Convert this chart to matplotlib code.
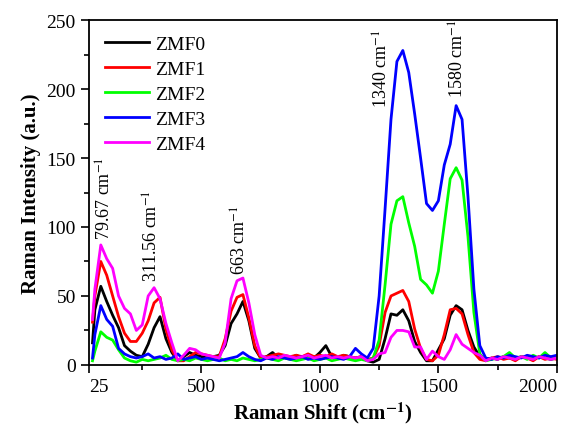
import matplotlib
matplotlib.use("Agg")
import matplotlib.pyplot as plt
from matplotlib.ticker import MultipleLocator

plt.rcParams['font.family'] = ['Liberation Serif', 'DejaVu Serif']
plt.rcParams['mathtext.fontset'] = 'stix'

# Raman shift grid (cm-1), shared by all samples
shift = [40, 50, 75, 100, 125, 150, 175, 200, 225, 250,
         275, 300, 325, 350, 375, 400, 425, 450, 475, 500,
         525, 550, 575, 600, 625, 650, 675, 700, 725, 750,
         775, 800, 825, 850, 875, 900, 925, 950, 975, 1000,
         1025, 1050, 1075, 1100, 1125, 1150, 1175, 1200, 1225, 1250,
         1275, 1300, 1325, 1350, 1375, 1400, 1425, 1450, 1475, 1500,
         1525, 1550, 1575, 1600, 1625, 1650, 1675, 1700, 1725, 1750,
         1775, 1800, 1825, 1850, 1875, 1900, 1925, 1950, 1975, 2000]

zmf0 = [16, 40, 57, 46, 36, 27, 14, 10, 7, 6,
        15, 27, 35, 19, 9, 3, 6, 9, 7, 6,
        5, 6, 7, 14, 30, 37, 46, 32, 12, 5,
        6, 9, 5, 6, 5, 7, 5, 6, 5, 9,
        14, 6, 5, 7, 6, 5, 6, 3, 2, 4,
        19, 37, 36, 40, 32, 17, 9, 3, 3, 11,
        19, 36, 43, 40, 25, 13, 6, 4, 5, 4,
        6, 5, 4, 6, 5, 4, 6, 5, 4, 5]

zmf1 = [31, 50, 75, 65, 50, 35, 23, 17, 17, 23,
        32, 45, 49, 26, 11, 3, 3, 6, 9, 8,
        7, 6, 6, 19, 39, 49, 51, 34, 14, 5,
        6, 7, 8, 7, 6, 7, 6, 8, 6, 7,
        6, 8, 6, 7, 6, 5, 6, 4, 5, 14,
        38, 50, 52, 54, 46, 26, 12, 4, 3, 7,
        22, 40, 41, 37, 22, 9, 4, 3, 5, 6,
        4, 5, 3, 6, 5, 3, 6, 4, 5, 4]

zmf2 = [3, 10, 24, 20, 18, 11, 5, 3, 2, 4,
        3, 4, 5, 7, 4, 3, 4, 3, 5, 4,
        3, 4, 5, 3, 4, 3, 5, 4, 3, 4,
        5, 4, 3, 5, 4, 3, 4, 5, 3, 4,
        5, 3, 4, 5, 4, 3, 4, 3, 5, 18,
        58, 102, 119, 122, 103, 86, 62, 58, 52, 68,
        102, 135, 143, 134, 93, 38, 8, 3, 4, 5,
        6, 9, 5, 6, 4, 7, 5, 9, 5, 6]

zmf3 = [5, 22, 43, 33, 28, 12, 8, 6, 5, 6,
        8, 5, 6, 4, 5, 8, 4, 5, 6, 4,
        5, 4, 3, 4, 5, 6, 9, 6, 4, 3,
        5, 4, 6, 5, 4, 5, 6, 4, 5, 4,
        5, 6, 5, 4, 6, 12, 8, 5, 12, 50,
        113, 178, 220, 228, 212, 182, 150, 117, 112, 119,
        145, 160, 188, 178, 122, 55, 14, 5, 4, 6,
        5, 7, 6, 5, 7, 6, 5, 7, 6, 7]

zmf4 = [33, 55, 87, 77, 70, 50, 41, 37, 25, 29,
        50, 56, 48, 30, 16, 3, 7, 12, 11, 8,
        7, 6, 5, 16, 48, 61, 63, 45, 22, 7,
        5, 6, 5, 7, 6, 5, 6, 7, 5, 6,
        7, 5, 6, 5, 6, 5, 6, 3, 4, 8,
        9, 20, 25, 25, 24, 13, 13, 4, 10, 6,
        4, 11, 22, 15, 12, 9, 7, 3, 5, 4,
        6, 5, 4, 6, 5, 4, 6, 5, 4, 5]

labels = ['ZMF0', 'ZMF1', 'ZMF2', 'ZMF3', 'ZMF4']
colors = ['black', '#ff0000', '#00ff00', '#0000ff', '#ff00ff']

# peak labels: text, x, y (bottom of rotated text)
peak_text = ['79.67 cm$^{-1}$', '311.56 cm$^{-1}$', '663 cm$^{-1}$',
             '1340 cm$^{-1}$', '1580 cm$^{-1}$']
peak_x = [92, 292, 663, 1262, 1585]
peak_y = [91, 61, 66, 187, 194]

fig = plt.figure(figsize=(5.63, 4.31), dpi=100)
ax = fig.add_axes([0.158, 0.151, 0.831, 0.800])

for ys, lab, c in zip([zmf0, zmf1, zmf2, zmf3, zmf4], labels, colors):
    ax.plot(shift, ys, color=c, lw=2.0, label=lab)

for t, px, py in zip(peak_text, peak_x, peak_y):
    ax.text(px, py, t, rotation=90, ha='center', va='bottom', fontsize=13)

ax.set_xlim(25, 2000)
ax.set_ylim(0, 250)
ax.set_xticks([25, 500, 1000, 1500, 2000])
ax.xaxis.set_minor_locator(MultipleLocator(250))
ax.yaxis.set_major_locator(MultipleLocator(50))
ax.yaxis.set_minor_locator(MultipleLocator(25))
ax.tick_params(which='both', direction='out', top=False, right=False,
               labelsize=14, width=1.2)
ax.tick_params(which='major', length=6)
ax.tick_params(which='minor', length=3.5)
xt = ax.get_xticklabels()
xt[0].set_ha('left')
xt[-1].set_ha('right')
for s in ax.spines.values():
    s.set_linewidth(1.3)

ax.set_xlabel('Raman Shift (cm$^{\\mathbf{-1}}$)', fontsize=15, fontweight='bold', labelpad=3)
ax.set_ylabel('Raman Intensity (a.u.)', fontsize=15, fontweight='bold', labelpad=4)

ax.legend(loc='upper left', frameon=False, fontsize=14, handlelength=2.3,
          handletextpad=0.3, labelspacing=0.38, borderaxespad=0.4,
          bbox_to_anchor=(0.0, 1.0))

fig.savefig('out.png', dpi=100)
